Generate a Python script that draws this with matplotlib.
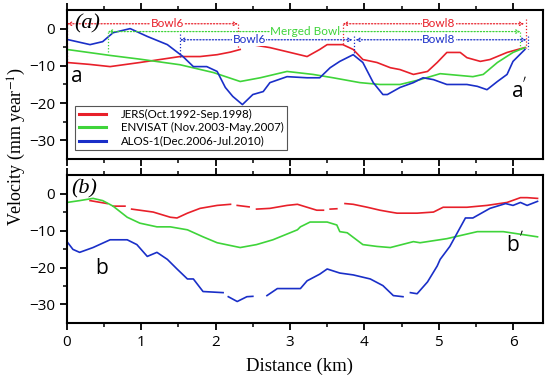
import numpy as np
import matplotlib
matplotlib.use("Agg")
import matplotlib.pyplot as plt

# ---- panel (a) profile a-a' ----
jers_a_x = [0, 0.3, 0.58, 0.98, 1.25, 1.52, 1.79, 2.02, 2.2, 2.33, np.nan,
            2.49, 2.73, 2.96, 3.23, 3.4, 3.5, 3.71, 3.85, 3.98, 4.17, 4.35, 4.48,
            4.66, 4.85, 4.98, 5.11, 5.29, 5.38, 5.56, 5.69, 5.92, 6.1, 6.16]
jers_a_v = [-9.1, -9.6, -10.2, -9.1, -8.3, -7.5, -7.5, -7.0, -6.3, -5.6, np.nan,
            -4.3, -5.1, -6.2, -7.5, -5.6, -4.3, -4.3, -5.6, -8.3, -9.1, -10.5, -11.0,
            -12.3, -11.5, -9.1, -6.4, -6.4, -7.8, -8.8, -8.3, -6.4, -5.4, -5.1]

envi_a_x = [0, 0.58, 0.98, 1.52, 1.97, 2.15, 2.33, 2.6, 2.96, 3.31, 3.58, 3.94,
            4.21, 4.48, 4.75, 5.02, 5.46, 5.6, 5.79, 6.0, 6.16]
envi_a_v = [-5.6, -7.2, -8.2, -9.7, -11.8, -13.0, -14.2, -13.2, -11.5, -12.3, -13.2, -14.5,
            -15.0, -15.0, -13.7, -12.1, -12.9, -12.3, -9.1, -6.4, -5.1]

alos_a_x = [0, 0.31, 0.48, 0.62, 0.85, 1.08, 1.35, 1.56, 1.7, 1.88, 2.02, 2.13,
            2.23, 2.36, 2.5, 2.64, 2.73, 2.96, 3.23, 3.4, 3.54, 3.67, 3.85, 3.98,
            4.12, 4.25, 4.31, 4.48, 4.66, 4.79, 4.93, 5.11, 5.38, 5.52, 5.65, 5.79,
            5.92, 6.0, 6.16]
alos_a_v = [-2.9, -4.3, -3.5, -1.1, 0.0, -2.1, -4.3, -7.5, -10.2, -10.2, -11.5, -15.8,
            -18.2, -20.4, -17.7, -16.9, -14.5, -12.9, -13.2, -13.2, -10.5, -8.8, -7.0, -9.1,
            -14.5, -17.7, -17.7, -15.8, -14.5, -13.2, -13.7, -15.0, -15.0, -15.5, -16.4, -14.2,
            -12.3, -8.8, -5.6]

# ---- panel (b) profile b-b' ----
jers_b_x = [0.31, 0.54, np.nan, 0.62, 0.78, np.nan, 0.87, 1.16, 1.39, 1.48, 1.62,
            1.79, 2.02, 2.2, np.nan, 2.29, 2.45, np.nan, 2.55, 2.73, 2.96, 3.1, 3.23,
            3.36, 3.45, np.nan, 3.54, 3.63, np.nan, 3.74, 3.85, 4.04, 4.21, 4.35, 4.44,
            4.71, 4.93, 5.06, 5.38, 5.65, 5.92, 6.1, 6.19, 6.33]
jers_b_v = [-1.9, -2.7, np.nan, -3.4, -3.4, np.nan, -4.2, -5.0, -6.4, -6.6, -5.3,
            -4.0, -3.2, -2.9, np.nan, -3.2, -3.6, np.nan, -4.2, -4.0, -3.2, -2.9, -3.7,
            -4.5, -4.5, np.nan, -4.2, -4.1, np.nan, -2.7, -2.9, -3.7, -4.5, -5.0, -5.3,
            -5.3, -5.0, -3.7, -3.7, -3.2, -2.4, -1.1, -1.1, -1.3]

envi_b_x = [0, 0.17, 0.35, 0.48, 0.62, 0.81, 0.98, 1.21, 1.39, 1.62, 1.83, 2.02,
            2.33, 2.55, 2.77, 3.1, 3.14, 3.27, 3.5, 3.63, 3.67, 3.77, 3.98, 4.17,
            4.35, 4.66, 4.75, 5.11, 5.52, 5.87, 6.33]
envi_b_v = [-2.4, -1.9, -1.3, -1.9, -3.4, -6.4, -8.0, -9.0, -9.0, -9.8, -11.7, -13.3,
            -14.6, -13.8, -12.5, -9.8, -9.0, -7.7, -7.7, -8.5, -10.3, -10.6, -13.8, -14.3,
            -14.6, -13.0, -13.3, -12.2, -10.3, -10.3, -11.7]

alos_b_x = [0, 0.08, 0.17, 0.35, 0.58, 0.81, 0.94, 1.08, 1.21, 1.35, 1.48, 1.62,
            1.7, 1.83, 2.1, np.nan, 2.17, 2.29, 2.42, 2.5, np.nan, 2.69, 2.83, 3.14,
            3.23, 3.4, 3.5, 3.67, 3.85, 4.08, 4.25, 4.39, 4.52, np.nan, 4.62, 4.71,
            4.85, 4.98, 5.02, 5.15, 5.36, 5.46, 5.69, 5.9, 6.0, 6.1, 6.19, 6.33]
alos_b_v = [-13.0, -15.1, -15.9, -14.6, -12.5, -12.5, -13.8, -17.0, -15.9, -17.8, -20.4, -23.1,
            -23.1, -26.5, -26.8, np.nan, -27.9, -29.2, -27.9, -27.8, np.nan, -27.6, -25.7, -25.7,
            -23.6, -21.8, -20.4, -21.5, -22.0, -23.1, -24.9, -27.6, -27.9, np.nan, -26.8, -27.1,
            -23.9, -19.6, -17.8, -14.3, -6.6, -6.6, -4.0, -2.7, -3.2, -2.4, -3.2, -2.1]

legend_labels = ["JERS(Oct.1992-Sep.1998)", "ENVISAT (Nov.2003-May.2007)",
                 "ALOS-1(Dec.2006-Jul.2010)"]

RED, GREEN, BLUE = "#e8202a", "#3fd43a", "#1a2fc8"
SANS = ["Open Sans", "DejaVu Sans"]
NARROW = ["Lato", "DejaVu Sans"]
SERIF = ["Liberation Serif", "DejaVu Serif"]

plt.rcParams["font.family"] = SANS
plt.rcParams["axes.linewidth"] = 1.5

fig = plt.figure(figsize=(5.5, 3.84), dpi=100)
ax1 = fig.add_axes([0.1218, 0.586, 0.865, 0.388])
ax2 = fig.add_axes([0.1218, 0.159, 0.865, 0.385])

for ax in (ax1, ax2):
    ax.set_xlim(0, 6.4)
    ax.set_ylim(-35, 5)
    ax.set_xticks(np.arange(0, 7, 1))
    ax.set_xticks(np.arange(0.5, 6.5, 1), minor=True)
    ax.set_yticks([0, -10, -20, -30])
    ax.set_yticks([-5, -15, -25], minor=True)
    ax.tick_params(axis="both", which="major", direction="out", length=5, width=1.3,
                   top=True, labelsize=11)
    ax.tick_params(axis="both", which="minor", direction="out", length=3, width=1.1,
                   top=True)
    ax.set_yticklabels(["0", "\u221210", "\u221220", "\u221230"])

ax1.tick_params(labelbottom=False)

lw = 1.2
ax1.plot(jers_a_x, jers_a_v, color=RED, lw=lw, label=legend_labels[0])
ax1.plot(envi_a_x, envi_a_v, color=GREEN, lw=lw, label=legend_labels[1])
ax1.plot(alos_a_x, alos_a_v, color=BLUE, lw=lw, label=legend_labels[2])

ax2.plot(jers_b_x, jers_b_v, color=RED, lw=lw)
ax2.plot(envi_b_x, envi_b_v, color=GREEN, lw=lw)
ax2.plot(alos_b_x, alos_b_v, color=BLUE, lw=lw)

leg = ax1.legend(loc="lower left", bbox_to_anchor=(0.005, 0.02),
                 prop=dict(family=NARROW, size=8.3),
                 handlelength=2.4, handletextpad=1.3, borderpad=0.3, labelspacing=0.2,
                 fancybox=False, framealpha=1)
leg.get_frame().set_edgecolor("#555555")
leg.get_frame().set_linewidth(0.8)
for h in leg.get_lines():
    h.set_linewidth(2.2)


def bowl(ax, x0, x1, y, color, text, tx):
    ax.annotate("", xy=(x0, y), xytext=(x1, y),
                arrowprops=dict(arrowstyle="<->", ls=(0, (1, 1.5)), color=color, lw=0.9,
                                shrinkA=0, shrinkB=0, mutation_scale=6))
    ax.text(tx, y, text, color=color, fontsize=8.5, family=NARROW, ha="center",
            va="center", bbox=dict(fc="white", ec="none", pad=0.2))


dot = (0, (1, 1.5))
# Bowl6 (JERS)
bowl(ax1, 0, 2.3, 1.3, RED, "Bowl6", 1.35)
ax1.plot([0, 0], [1.3, -9], color=RED, lw=0.9, ls=dot)
ax1.plot([2.3, 2.3], [1.3, -5.6], color=RED, lw=0.9, ls=dot)
# Bowl8 (JERS)
bowl(ax1, 3.71, 6.15, 1.3, RED, "Bowl8", 5.0)
ax1.plot([3.71, 3.71], [1.3, -4.3], color=RED, lw=0.9, ls=dot)
ax1.plot([6.17, 6.17], [2.5, -5.1], color=RED, lw=0.9, ls=dot)
# Merged bowl (ENVISAT)
bowl(ax1, 0.55, 6.1, -0.8, GREEN, "Merged Bowl", 3.2)
ax1.plot([0.55, 0.55], [-0.8, -6.6], color=GREEN, lw=0.9, ls=dot)
ax1.plot([6.1, 6.1], [-0.8, -5.4], color=GREEN, lw=0.9, ls=dot)
# Bowl6 / Bowl8 (ALOS)
bowl(ax1, 1.52, 3.84, -3.0, BLUE, "Bowl6", 2.45)
bowl(ax1, 3.88, 6.18, -3.0, BLUE, "Bowl8", 5.0)
ax1.plot([1.52, 1.52], [-1.5, -7.5], color=BLUE, lw=0.9, ls=dot)
ax1.plot([3.86, 3.86], [-2.0, -7.0], color=BLUE, lw=0.9, ls=dot)
ax1.plot([6.2, 6.2], [-2.0, -5.6], color=BLUE, lw=0.9, ls=dot)

ax1.text(0.1, 1.4, "(a)", fontsize=16, style="italic", family=SERIF, va="center")
ax2.text(0.06, 1.2, "(b)", fontsize=16, style="italic", family=SERIF, va="center")
ax1.text(0.05, -12.8, "a", fontsize=15, va="center")
ax1.text(5.97, -16.6, "a$^{'}$", fontsize=15, va="center")
ax2.text(0.38, -20.4, "b", fontsize=15, va="center")
ax2.text(5.9, -13.8, "b$^{'}$", fontsize=15, va="center")

fig.text(0.031, 0.62, "Velocity (mm year$^{-1}$)", rotation=90, fontsize=13,
         family=SERIF, ha="center", va="center", math_fontfamily="stix")
fig.text(0.544, 0.045, "Distance (km)", fontsize=13.5, family=SERIF,
         ha="center", va="center")

fig.savefig("out.png", dpi=100)
